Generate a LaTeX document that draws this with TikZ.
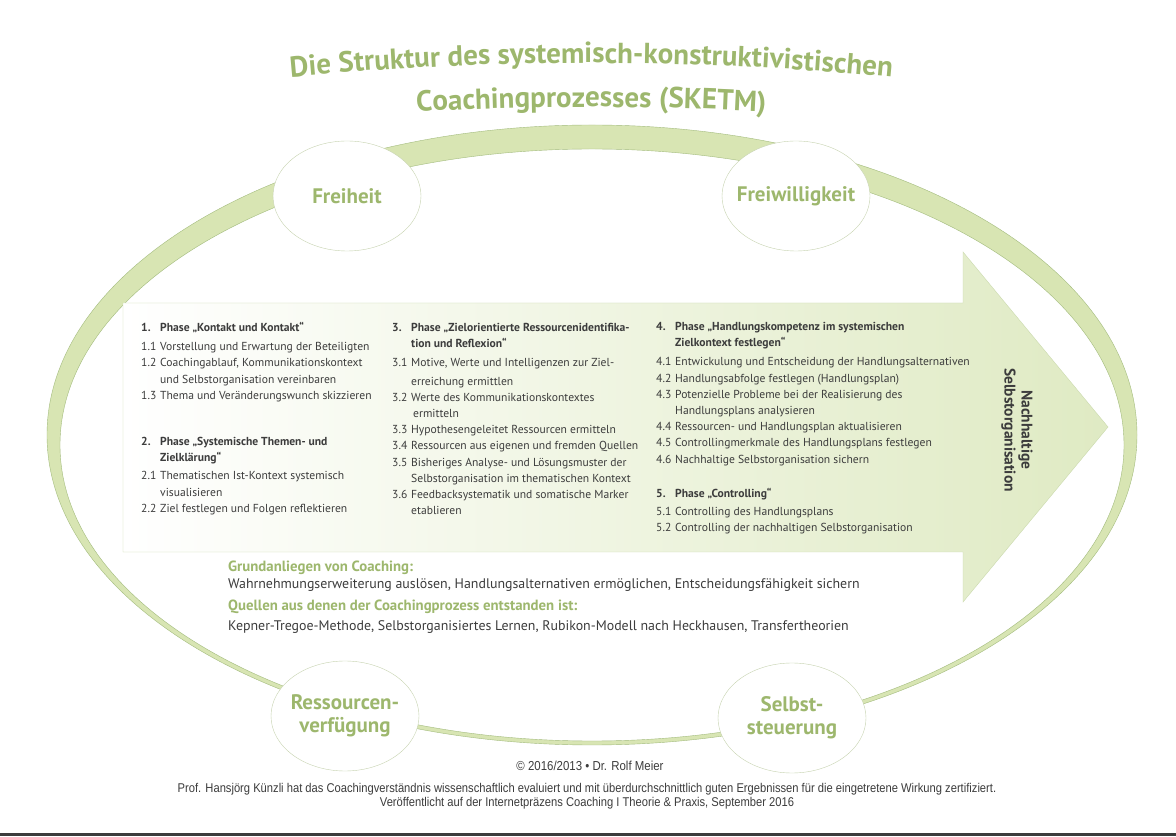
\documentclass[tikz,border=0pt]{standalone}
\usepackage{fontspec}
\setmainfont{PT Sans}
\newfontfamily\footfont[FakeStretch=0.88]{Liberation Sans}
\usetikzlibrary{shapes.geometric}
\usetikzlibrary{decorations.text}
\usepackage{xcolor}

\definecolor{titlegreen}{HTML}{9DB76D}
\definecolor{ringfill}{HTML}{D8E5B3}
\definecolor{ringline}{HTML}{A3BC7E}
\definecolor{arrowfill}{HTML}{DFEAC3}
\definecolor{arrowline}{HTML}{CBDAAE}
\definecolor{circleline}{HTML}{C6D2AF}
\definecolor{textgray}{HTML}{3C3C3C}

\newcommand{\nr}[1]{\makebox[19pt][l]{#1}}
\newcommand{\titlefont}{\fontsize{29}{34}\selectfont\bfseries}

\begin{document}
\begin{tikzpicture}[
x=1pt, y=1pt,
wert/.style={ellipse, draw=circleline, fill=white, thin, minimum width=148pt, minimum height=110pt,
  text=titlegreen, font=\fontsize{21}{23}\selectfont\bfseries, align=center,
  inner xsep=-24pt, inner ysep=0},
spalte/.style={anchor=north west, inner sep=0, align=left, text=textgray,
  font=\fontsize{11.6}{16.2}\selectfont},
unten/.style={anchor=base west, inner sep=0, font=\fontsize{13.9}{16}\selectfont},
kopf/.style={unten, text=titlegreen, font=\fontsize{14.8}{16}\selectfont\bfseries},
fuss/.style={inner sep=0, text=textgray, font=\footfont\fontsize{12.7}{14}\selectfont}
]
\useasboundingbox[fill=white] (0,0) rectangle (1176,836);

% Title
\path[decorate, decoration={text along path, text align=center, text color=titlegreen,
  text={|\titlefont|Die Struktur des systemisch-konstruktivistischen}}]
  (591,-2430) ++(100:3203) arc (100:80:3203);
\path[decorate, decoration={text along path, text align=center, text color=titlegreen,
  text={|\titlefont|Coachingprozesses (SKETM)}}]
  (591,-2430) ++(100:3159) arc (100:80:3159);

% Ring
\fill[ringfill, even odd rule] (592,401) ellipse (545 and 310) (592,391) ellipse (532 and 296);
\draw[ringline, thin] (592,401) ellipse (545 and 310);
\draw[ringline, thin] (592,391) ellipse (532 and 296);

% Circles
\foreach \n/\x/\y/\t in {frei/347/640/Freiheit, freiw/796/640/Freiwilligkeit,
  ress/345/120/{Ressourcen-\\verfügung}, selbst/792/118/{Selbst-\\steuerung}}{
    \node[wert] (\n) at (\x,\y) {\t};
}

% Arrow
\shadedraw[left color=white, right color=arrowfill, draw=arrowline]
  (123,533) -- (963,533) -- (963,584) -- (1108,409) -- (963,234) -- (963,284) -- (123,284) -- cycle;

% Phases
\node[spalte] (p12) at (141,514) {%
\textbf{\nr{1.}Phase „Kontakt und Kontakt“}\\[3pt]
\nr{1.1}Vorstellung und Erwartung der Beteiligten\\
\nr{1.2}Coachingablauf, Kommunikationskontext\\
\nr{}und Selbstorganisation vereinbaren\\
\nr{1.3}Thema und Veränderungswunch skizzieren\\[30pt]
\textbf{\nr{2.}Phase „Systemische Themen- und}\\
\textbf{\nr{}Zielklärung“}\\[2pt]
\nr{2.1}Thematischen Ist-Kontext systemisch\\
\nr{}visualisieren\\
\nr{2.2}Ziel festlegen und Folgen reflektieren};

\node[spalte] (p3) at (392,513) {%
\textbf{\nr{3.}Phase „Zielorientierte Ressourcenidentifika-}\\
\textbf{\nr{}tion und Reflexion“}\\[3pt]
\nr{3.1}Motive, Werte und Intelligenzen zur Ziel-\\[2pt]
\nr{}erreichung ermittlen\\
\nr{3.2}Werte des Kommunikationskontextes\\
\nr{}\hspace{2pt}ermitteln\\
\nr{3.3}Hypothesengeleitet Ressourcen ermitteln\\
\nr{3.4}Ressourcen aus eigenen und fremden Quellen\\
\nr{3.5}Bisheriges Analyse- und Lösungsmuster der\\
\nr{}Selbstorganisation im thematischen Kontext\\
\nr{3.6}Feedbacksystematik und somatische Marker\\
\nr{}etablieren};

\node[spalte] (p45) at (656,514) {%
\textbf{\nr{4.}Phase „Handlungskompetenz im systemischen}\\
\textbf{\nr{}Zielkontext festlegen“}\\[3pt]
\nr{4.1}Entwickulung und Entscheidung der Handlungsalternativen\\
\nr{4.2}Handlungsabfolge festlegen (Handlungsplan)\\
\nr{4.3}Potenzielle Probleme bei der Realisierung des\\
\nr{}Handlungsplans analysieren\\
\nr{4.4}Ressourcen- und Handlungsplan aktualisieren\\
\nr{4.5}Controllingmerkmale des Handlungsplans festlegen\\
\nr{4.6}Nachhaltige Selbstorganisation sichern\\[18pt]
\textbf{\nr{5.}Phase „Controlling“}\\[2pt]
\nr{5.1}Controlling des Handlungsplans\\
\nr{5.2}Controlling der nachhaltigen Selbstorganisation};

\node[rotate=-90, align=center, text=textgray, font=\fontsize{15.5}{17}\selectfont\bfseries]
  (ziel) at (1017,406) {Nachhaltige\\Selbstorganisation};

% Grundanliegen und Quellen
\node[kopf] (grund) at (228,264) {Grundanliegen von Coaching:};
\node[unten, text=textgray] (grundtxt) at (228,247) {Wahrnehmungserweiterung auslösen, Handlungsalternativen ermöglichen, Entscheidungsfähigkeit sichern};
\node[kopf] (quell) at (228,225) {Quellen aus denen der Coachingprozess entstanden ist:};
\node[unten, text=textgray] (quelltxt) at (228,205) {Kepner-Tregoe-Methode, Selbstorganisiertes Lernen, Rubikon-Modell nach Heckhausen, Transfertheorien};

% Footer
\node[fuss, font=\footfont\fontsize{13}{15}\selectfont] (copy) at (590,70) {© 2016/2013 • Dr. Rolf Meier};
\node[fuss] (kuenzli) at (587,47) {Prof. Hansjörg Künzli hat das Coachingverständnis wissenschaftlich evaluiert und mit überdurchschnittlich guten Ergebnissen für die eingetretene Wirkung zertifiziert.};
\node[fuss] (publ) at (587,33) {Veröffentlicht auf der Internetpräzens Coaching I Theorie \& Praxis, September 2016};
\fill[textgray] (0,0) rectangle (1176,3);
\end{tikzpicture}
\end{document}
